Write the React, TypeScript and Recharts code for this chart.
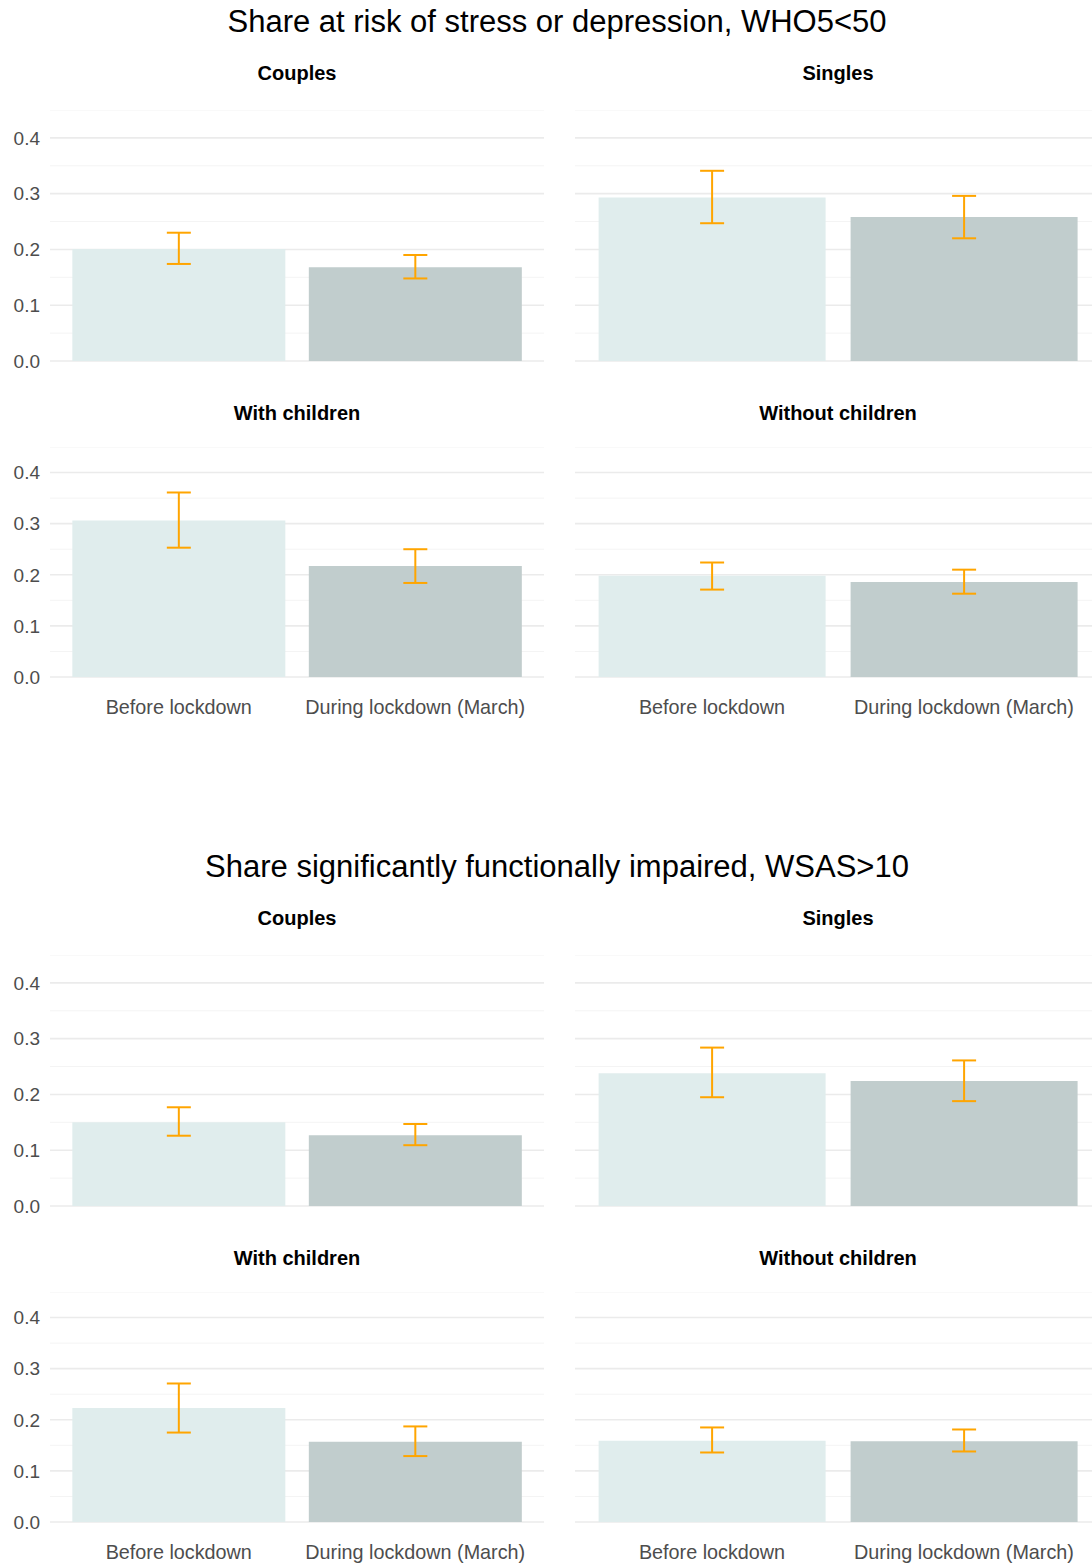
import { BarChart, Bar, XAxis, YAxis, CartesianGrid, ErrorBar, Cell } from 'recharts';

const categories = ['Before lockdown', 'During lockdown (March)'];
const barColors = ['#e0eded', '#c1cdcd'];
const yTicks = [0, 0.05, 0.1, 0.15, 0.2, 0.25, 0.3, 0.35, 0.4, 0.45];

const titles = [
  'Share at risk of stress or depression, WHO5<50',
  'Share significantly functionally impaired, WSAS>10',
];
const facets = ['Couples', 'Singles', 'With children', 'Without children'];

// WHO5<50: share, lower and upper CI
const whoCouples = [0.201, 0.168];
const whoCouplesLow = [0.174, 0.148];
const whoCouplesHigh = [0.23, 0.19];
const whoSingles = [0.293, 0.258];
const whoSinglesLow = [0.247, 0.22];
const whoSinglesHigh = [0.341, 0.296];
const whoWithChildren = [0.306, 0.217];
const whoWithChildrenLow = [0.253, 0.184];
const whoWithChildrenHigh = [0.361, 0.25];
const whoWithoutChildren = [0.198, 0.186];
const whoWithoutChildrenLow = [0.171, 0.163];
const whoWithoutChildrenHigh = [0.224, 0.21];

// WSAS>10
const wsasCouples = [0.15, 0.127];
const wsasCouplesLow = [0.126, 0.109];
const wsasCouplesHigh = [0.177, 0.147];
const wsasSingles = [0.238, 0.224];
const wsasSinglesLow = [0.195, 0.188];
const wsasSinglesHigh = [0.284, 0.261];
const wsasWithChildren = [0.223, 0.157];
const wsasWithChildrenLow = [0.175, 0.129];
const wsasWithChildrenHigh = [0.271, 0.187];
const wsasWithoutChildren = [0.159, 0.158];
const wsasWithoutChildrenLow = [0.136, 0.138];
const wsasWithoutChildrenHigh = [0.185, 0.181];

const sections = [
  [
    [whoCouples, whoCouplesLow, whoCouplesHigh],
    [whoSingles, whoSinglesLow, whoSinglesHigh],
    [whoWithChildren, whoWithChildrenLow, whoWithChildrenHigh],
    [whoWithoutChildren, whoWithoutChildrenLow, whoWithoutChildrenHigh],
  ],
  [
    [wsasCouples, wsasCouplesLow, wsasCouplesHigh],
    [wsasSingles, wsasSinglesLow, wsasSinglesHigh],
    [wsasWithChildren, wsasWithChildrenLow, wsasWithChildrenHigh],
    [wsasWithoutChildren, wsasWithoutChildrenLow, wsasWithoutChildrenHigh],
  ],
];

const FONT = '"Liberation Sans", Arial, sans-serif';
const TEXT_GREY = '#4d4d4d';

const gridLine = (props: any) => {
  const idx = typeof props.index === 'number' ? props.index : parseInt(String(props.key).split('-').pop() || '0', 10);
  const major = idx % 2 === 0;
  return (
    <line
      key={props.key}
      x1={props.x1}
      x2={props.x2}
      y1={props.y1}
      y2={props.y2}
      stroke={major ? '#ebebeb' : '#f4f4f4'}
      strokeWidth={major ? 1.6 : 1}
    />
  );
};

const fmtTick = (v: number) => (Math.round(v * 100) % 10 === 0 ? v.toFixed(1) : '');

interface PanelProps {
  left: number;
  top: number;
  width: number;
  plotHeight: number;
  values: number[];
  lows: number[];
  highs: number[];
  showY: boolean;
  showX: boolean;
  pad: number;
}

function Panel({ left, top, width, plotHeight, values, lows, highs, showY, showX, pad }: PanelProps) {
  const data = categories.map((name, i) => ({
    name,
    value: values[i],
    err: [values[i] - lows[i], highs[i] - values[i]],
  }));
  const xHeight = showX ? 50 : 0;
  const bottom = showX ? 0 : 14;
  return (
    <div style={{ position: 'absolute', left, top }}>
      <BarChart
        width={width}
        height={plotHeight + xHeight + bottom}
        data={data}
        margin={{ top: 0, right: 0, bottom, left: 0 }}
        barCategoryGap="5%"
      >
        <CartesianGrid vertical={false} horizontal={gridLine} />
        <XAxis
          dataKey="name"
          hide={!showX}
          height={xHeight || 1}
          padding={{ left: pad, right: pad }}
          tickLine={false}
          axisLine={false}
          tickMargin={17}
          interval={0}
          tick={{ fill: TEXT_GREY, fontSize: 19.8, fontFamily: FONT }}
        />
        <YAxis
          hide={!showY}
          width={50}
          domain={[0, 0.45]}
          ticks={yTicks}
          tickFormatter={fmtTick}
          tickLine={false}
          axisLine={false}
          tickMargin={4}
          interval={0}
          tick={{ fill: TEXT_GREY, fontSize: 19, fontFamily: FONT }}
        />
        <Bar dataKey="value" isAnimationActive={false}>
          {data.map((d, i) => (
            <Cell key={d.name} fill={barColors[i]} />
          ))}
          <ErrorBar dataKey="err" direction="y" width={12} stroke="#ffa500" strokeWidth={2} />
        </Bar>
      </BarChart>
    </div>
  );
}

function Label({ text, x, top, size, bold }: { text: string; x: number; top: number; size: number; bold?: boolean }) {
  return (
    <div
      style={{
        position: 'absolute',
        left: x,
        top,
        transform: 'translateX(-50%)',
        whiteSpace: 'nowrap',
        fontSize: size,
        lineHeight: `${size}px`,
        fontWeight: bold ? 700 : 400,
        color: '#000',
      }}
    >
      {text}
    </div>
  );
}

export default function App() {
  const offsets = [0, 845];
  return (
    <div
      style={{
        position: 'absolute',
        left: 0,
        top: 0,
        width: 1092,
        height: 1564,
        overflow: 'hidden',
        background: '#fff',
        fontFamily: FONT,
      }}
    >
      {sections.map((panels, s) => {
        const off = offsets[s];
        return (
          <div key={s}>
            <Label text={titles[s]} x={557} top={off + 6} size={31} />
            <Label text={facets[0]} x={297} top={off + 63} size={20} bold />
            <Label text={facets[1]} x={838} top={off + 63} size={20} bold />
            <Label text={facets[2]} x={297} top={off + 403} size={20} bold />
            <Label text={facets[3]} x={838} top={off + 403} size={20} bold />
            <Panel left={0} top={off + 110} width={544} plotHeight={251} values={panels[0][0]} lows={panels[0][1]} highs={panels[0][2]} showY showX={false} pad={10.5} />
            <Panel left={575} top={off + 110} width={526} plotHeight={251} values={panels[1][0]} lows={panels[1][1]} highs={panels[1][2]} showY={false} showX={false} pad={11} />
            <Panel left={0} top={off + 447} width={544} plotHeight={230} values={panels[2][0]} lows={panels[2][1]} highs={panels[2][2]} showY showX pad={10.5} />
            <Panel left={575} top={off + 447} width={526} plotHeight={230} values={panels[3][0]} lows={panels[3][1]} highs={panels[3][2]} showY={false} showX pad={11} />
          </div>
        );
      })}
    </div>
  );
}
